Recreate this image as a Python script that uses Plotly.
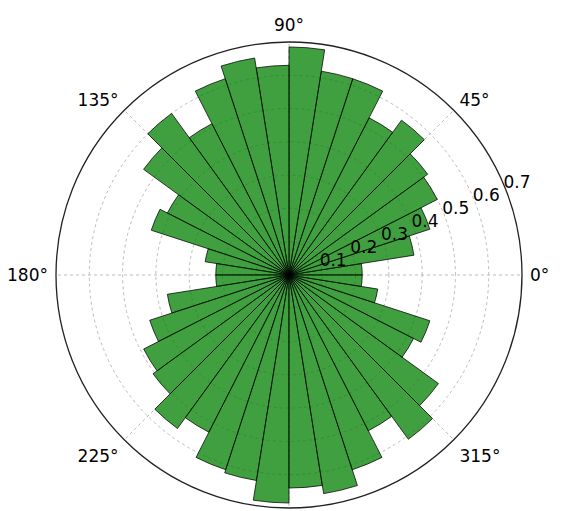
import plotly.graph_objects as go

# 40 direction bins of 9 degrees, starting at 0 deg (counterclockwise)
bin_width = 9
bin_starts = [i * bin_width for i in range(40)]
bin_centers = [s + bin_width / 2 for s in bin_starts]

# bar heights, bin 0 = 0-9 deg
heights = [
    0.22, 0.38, 0.445, 0.50, 0.515, 0.575, 0.53, 0.62, 0.62, 0.685,
    0.63, 0.66, 0.62, 0.51, 0.60, 0.54, 0.41, 0.435, 0.255, 0.22,
    0.22, 0.37, 0.44, 0.49, 0.505, 0.57, 0.53, 0.615, 0.625, 0.685,
    0.64, 0.665, 0.615, 0.525, 0.61, 0.555, 0.42, 0.445, 0.27, 0.22,
]

angle_ticks = [0, 45, 90, 135, 180, 225, 270, 315]
# the 270 label falls below the picture in the original, so it stays blank
angle_labels = ["0°", "45°", "90°", "135°", "180°", "225°", "", "315°"]
radial_ticks = [0.1, 0.2, 0.3, 0.4, 0.5, 0.6, 0.7]
radial_labels = ["0.1", "0.2", "0.3", "0.4", "0.5", "0.6", "0.7"]

# radial labels start at their ring, along the 22.5 deg line
label_angle = 23

fig = go.Figure()
fig.add_trace(go.Barpolar(
    r=heights,
    theta=bin_centers,
    width=[bin_width] * len(heights),
    marker=dict(color="rgba(0,128,0,0.75)",
                line=dict(color="rgba(0,0,0,0.75)", width=1)),
    hoverinfo="r+theta",
))
fig.add_trace(go.Scatterpolar(
    r=radial_ticks,
    theta=[label_angle] * len(radial_ticks),
    mode="text",
    text=radial_labels,
    textposition="middle right",
    textfont=dict(family="DejaVu Sans", size=17, color="black"),
    cliponaxis=False,
    hoverinfo="skip",
))

# page body adds an 8px offset, so the domain is shifted up/left by that
fig.update_layout(
    width=563, height=511,
    margin=dict(l=0, r=0, t=0, b=0),
    paper_bgcolor="white",
    showlegend=False,
    font=dict(family="DejaVu Sans", size=17, color="black"),
    polar=dict(
        domain=dict(x=[48 / 563, 514 / 563], y=[1 - 500 / 511, 1 - 34 / 511]),
        bgcolor="white",
        bargap=0,
        angularaxis=dict(
            direction="counterclockwise", rotation=0,
            tickmode="array", tickvals=angle_ticks, ticktext=angle_labels,
            ticks="outside", ticklen=4, tickcolor="rgba(0,0,0,0)",
            showline=True, linecolor="#222222", linewidth=1.3,
            showgrid=True, gridcolor="#bbbbbb", griddash="dot", gridwidth=1,
        ),
        radialaxis=dict(
            range=[0, 0.7], angle=22.5,
            tickmode="array", tickvals=radial_ticks,
            showticklabels=False, showline=False, ticks="",
            showgrid=True, gridcolor="#bbbbbb", griddash="dot", gridwidth=1,
            layer="above traces",
        ),
    ),
)

fig.write_html("out.html")
